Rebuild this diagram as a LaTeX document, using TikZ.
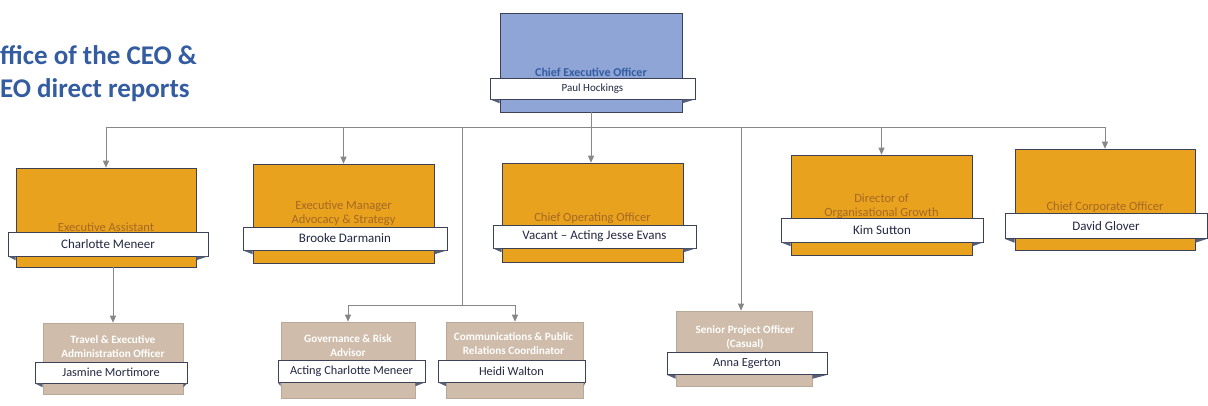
\documentclass[tikz,border=0pt]{standalone}
\usepackage{fontspec}
\setmainfont{Carlito}
\usetikzlibrary{arrows.meta,calc}

\definecolor{ceoBlue}{RGB}{142,165,214}
\definecolor{mgrOrange}{RGB}{233,162,30}
\definecolor{staffTan}{RGB}{207,188,170}
\definecolor{headBlue}{RGB}{52,92,160}
\definecolor{nameInk}{RGB}{35,40,65}
\definecolor{roleBrown}{RGB}{165,104,36}
\definecolor{edgeInk}{RGB}{60,65,85}
\definecolor{foldInk}{RGB}{85,95,120}
\definecolor{linkGrey}{RGB}{135,135,135}

\tikzset{
  card/.style={draw=edgeInk, line width=0.6pt, inner sep=0pt},
  ceocard/.style={card, fill=ceoBlue},
  mgrcard/.style={card, fill=mgrOrange},
  staffcard/.style={card, fill=staffTan, draw=staffTan!90!black},
  banner/.style={draw=edgeInk, line width=0.6pt, fill=white, inner sep=0pt,
    text=nameInk, font=\fontsize{13}{14}\selectfont},
  ceorole/.style={inner sep=0pt, text=headBlue, font=\bfseries\fontsize{12}{14}\selectfont},
  mgrrole/.style={inner sep=0pt, align=center, text=roleBrown, font=\fontsize{12.5}{14}\selectfont},
  staffrole/.style={inner sep=0pt, align=center, text=white, font=\bfseries\fontsize{11.2}{14}\selectfont},
  heading/.style={inner sep=0pt, anchor=base west, text=headBlue, font=\bfseries\fontsize{27}{30}\selectfont},
  link/.style={draw=linkGrey, line width=0.8pt},
  arr/.style={link, -{Triangle[width=6pt,length=7pt]}},
  fold/.style={fill=foldInk},
}

% the two folded ends of a name ribbon laid across a card
\newcommand\ribbonfolds[2]{%
  \fill[fold] (#2.south west) -- (#1.west |- #2.south) -- ($(#1.west |- #2.south)+(0,4)$) -- cycle;
  \fill[fold] (#2.south east) -- (#1.east |- #2.south) -- ($(#1.east |- #2.south)+(0,4)$) -- cycle;}

\begin{document}
\begin{tikzpicture}[x=1pt,y=-1pt]
\useasboundingbox (0,0) rectangle (1208,405);

% heading
\node[heading] (head1) at (0,64) {ffice of the CEO \&};
\node[heading] (head2) at (0,97) {EO direct reports};

% chief executive
\node[ceocard, minimum width=182pt, minimum height=99pt] (ceo) at (591,62.5) {};
\node[ceorole] (ceoT) at (591,72) {Chief Executive Officer};
\node[banner, minimum width=205pt, minimum height=21pt, font=\fontsize{11}{12}\selectfont] (ceoN) at (592.5,88.5) {Paul Hockings};
\ribbonfolds{ceo}{ceoN}

% direct reports
\node[mgrcard, minimum width=180pt, minimum height=99pt] (ea) at (106,217.5) {};
\node[mgrrole] (eaT) at (106,227) {Executive Assistant};
\node[banner, minimum width=200pt, minimum height=24pt] (eaN) at (108,244) {Charlotte Meneer};
\ribbonfolds{ea}{eaN}

\node[mgrcard, minimum width=181pt, minimum height=99pt] (ema) at (343.5,213.5) {};
\node[mgrrole] (emaT) at (343.5,213.5) {Executive Manager\\Advocacy \& Strategy};
\node[banner, minimum width=204pt, minimum height=23pt] (emaN) at (345,238.5) {Brooke Darmanin};
\ribbonfolds{ema}{emaN}

\node[mgrcard, minimum width=181pt, minimum height=99pt] (coo) at (592.5,212.5) {};
\node[mgrrole] (cooT) at (592.5,218.5) {Chief Operating Officer};
\node[banner, minimum width=203pt, minimum height=23pt] (cooN) at (594.5,236.5) {Vacant – Acting Jesse Evans};
\ribbonfolds{coo}{cooN}

\node[mgrcard, minimum width=181pt, minimum height=100pt] (dog) at (881.5,205) {};
\node[mgrrole] (dogT) at (881.5,206) {Director of\\Organisational Growth};
\node[banner, minimum width=202pt, minimum height=24pt] (dogN) at (882,230) {Kim Sutton};
\ribbonfolds{dog}{dogN}

\node[mgrcard, minimum width=180pt, minimum height=101pt] (cco) at (1105,199.5) {};
\node[mgrrole] (ccoT) at (1105,207.5) {Chief Corporate Officer};
\node[banner, minimum width=202pt, minimum height=25pt] (ccoN) at (1106,226) {David Glover};
\ribbonfolds{cco}{ccoN}

% second-level staff
\node[staffcard, minimum width=140pt, minimum height=71pt] (tea) at (113,358.5) {};
\node[staffrole] (teaT) at (113,346.5) {Travel \& Executive\\Administration Officer};
\node[banner, minimum width=152pt, minimum height=21pt, font=\fontsize{12.3}{14}\selectfont] (teaN) at (111,372.5) {Jasmine Mortimore};
\ribbonfolds{tea}{teaN}

\node[staffcard, minimum width=134pt, minimum height=76pt] (gra) at (348,360) {};
\node[staffrole] (graT) at (348,346) {Governance \& Risk\\Advisor};
\node[banner, minimum width=147pt, minimum height=22pt, font=\fontsize{12.3}{14}\selectfont] (graN) at (351.5,371) {Acting Charlotte Meneer};
\ribbonfolds{gra}{graN}

\node[staffcard, minimum width=137pt, minimum height=76pt] (cpr) at (515,360) {};
\node[staffrole] (cprT) at (513.5,343.5) {Communications \& Public\\Relations Coordinator};
\node[banner, minimum width=147pt, minimum height=22pt, font=\fontsize{12.3}{14}\selectfont] (cprN) at (511.5,371) {Heidi Walton};
\ribbonfolds{cpr}{cprN}

\node[staffcard, minimum width=136pt, minimum height=75pt] (spo) at (744,348.5) {};
\node[staffrole] (spoT) at (745,337.5) {Senior Project Officer\\(Casual)};
\node[banner, minimum width=160pt, minimum height=22pt, font=\fontsize{12.3}{14}\selectfont] (spoN) at (747,363.5) {Anna Egerton};
\ribbonfolds{spo}{spoN}

% reporting lines
\coordinate (bus) at (591,127);
\coordinate (govSplit) at (462,127);
\coordinate (govBus) at (462,305);
\coordinate (spoSplit) at (741,127);

\draw[link] (ceo.south) -- (bus);
\draw[link] (ea.north |- bus) -- (cco.north |- bus);
\draw[arr] (ea.north |- bus) -- (ea.north);
\draw[arr] (ema.north |- bus) -- (ema.north);
\draw[arr] (bus) -- (bus |- coo.north);
\draw[arr] (dog.north |- bus) -- (dog.north);
\draw[arr] (cco.north |- bus) -- (cco.north);

\draw[arr] (tea.north |- ea.south) -- (tea.north);

\draw[link] (govSplit) -- (govBus);
\draw[link] (gra.north |- govBus) -- (cpr.north |- govBus);
\draw[arr] (gra.north |- govBus) -- (gra.north);
\draw[arr] (cpr.north |- govBus) -- (cpr.north);

\draw[arr] (spoSplit) -- (spoSplit |- spo.north);
\end{tikzpicture}
\end{document}
